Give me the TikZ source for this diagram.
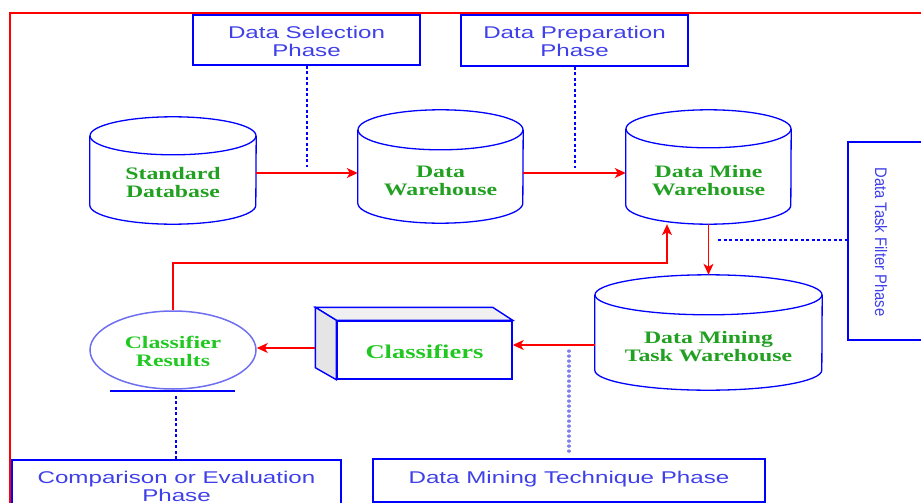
\documentclass[tikz,border=0pt]{standalone}
\usepackage{fontspec}
\usetikzlibrary{arrows.meta,shapes.geometric}
\newfontfamily\phasefont{Liberation Sans}[FakeStretch=1.42]
\newfontfamily\sidefont{Liberation Sans}
\newfontfamily\storefont{Liberation Serif}[FakeStretch=1.36]
\definecolor{phaseblue}{RGB}{64,64,232}
\definecolor{softblue}{RGB}{110,110,240}
\definecolor{dotblue}{RGB}{125,125,240}
\definecolor{storegreen}{RGB}{34,160,34}
\definecolor{brightgreen}{RGB}{34,200,34}
\definecolor{flowred}{RGB}{255,0,0}

\tikzset{
  phasebox/.style={draw=blue, line width=1.4pt, inner sep=0pt, fill=white},
  phasetext/.style={text=phaseblue, font=\phasefont\fontsize{17}{18}\selectfont, align=center},
  storetext/.style={text=storegreen, font=\storefont\bfseries\fontsize{17.5}{18}\selectfont, align=center},
  brighttext/.style={text=brightgreen, font=\storefont\bfseries\fontsize{17.5}{18}\selectfont, align=center},
  cylline/.style={draw=blue, line width=1.3pt},
  flow/.style={draw=flowred, line width=1.3pt, -{Stealth[length=11pt,width=10pt,inset=3pt]}},
  phaselink/.style={draw=blue, line width=2pt, dash pattern=on 3pt off 2.5pt},
  softdots/.style={draw=dotblue, line width=3.2pt, line cap=round, dash pattern=on 0.2pt off 4.8pt},
}

% cylinder: name, centre x, top y, bottom y, x radius, y radius
\newcommand\dbcylinder[6]{%
  \node[inner sep=0pt, minimum width={2*#5*1pt}, minimum height={(#4-#3)*1pt}]
    (#1) at (#2,{-(#3+#4)/2}) {};
  \draw[cylline, fill=white] ([yshift=-#6pt]#1.north west)
    -- ([yshift=#6pt]#1.south west)
    arc[start angle=180, end angle=360, x radius=#5, y radius=#6]
    -- ([yshift=-#6pt]#1.north east);
  \draw[cylline] ([yshift=-#6pt]#1.north) ellipse[x radius=#5, y radius=#6];
}

\begin{document}
\begin{tikzpicture}[x=1pt, y=1pt]
\useasboundingbox (0,0) rectangle (921,-503);

% outer frame
\draw[flowred, line width=1.5pt] (10,-13) rectangle (940,-520);

% phase boxes
\node[phasebox, minimum width=227pt, minimum height=50pt] (sel) at (306.5,-40) {};
\node[phasetext] at (306.5,-41) {Data Selection\\Phase};
\node[phasebox, minimum width=227pt, minimum height=51pt] (prep) at (574.5,-40.5) {};
\node[phasetext] at (574.5,-41) {Data Preparation\\Phase};
\node[phasebox, minimum width=82pt, minimum height=198pt] (filter) at (889,-241) {};
\node[rotate=-90, text=phaseblue] at (881,-242)
  {\scalebox{1}[1.13]{\sidefont\fontsize{14.8}{16}\selectfont Data Task Filter Phase}};
\node[phasebox, minimum width=329pt, minimum height=54pt] (eval) at (176.5,-487) {};
\node[phasetext] at (176.5,-486) {Comparison or Evaluation\\Phase};
\node[phasebox, minimum width=392pt, minimum height=43pt] (tech) at (569,-480.5) {};
\node[phasetext] at (569,-479) {Data Mining Technique Phase};

% data stores
\dbcylinder{sdb}{173}{117}{224}{83}{19}
\node[storetext] at (173,-183) {Standard\\Database};
\dbcylinder{dw}{440.5}{110}{223}{82.5}{20}
\node[storetext] at (440.5,-181) {Data\\Warehouse};
\dbcylinder{dmw}{708.5}{110}{224}{82.5}{19}
\node[storetext] at (708.5,-181) {Data Mine\\Warehouse};
\dbcylinder{dmtw}{708.5}{275}{390}{113.5}{20}
\node[storetext] at (708.5,-347) {Data Mining\\Task Warehouse};

% classifiers block with its 3-d faces
\node[draw=blue, line width=1.4pt, fill=white, minimum width=175pt, minimum height=58pt,
      inner sep=0pt] (cls) at (424.5,-350) {};
\draw[blue, line width=1.4pt, fill=gray!12] (cls.north west) -- ++(-21,13)
  -- ([xshift=-20pt,yshift=13pt]cls.north east) -- (cls.north east) -- cycle;
\draw[blue, line width=1.4pt, fill=gray!20] (cls.north west) -- ++(-21,13)
  -- ([xshift=-21pt,yshift=12pt]cls.south west) -- (cls.south west) -- cycle;
\node[brighttext, font=\storefont\bfseries\fontsize{19.5}{20}\selectfont] at (424.5,-352) {Classifiers};

% classifier results
\node[ellipse, draw=softblue, line width=1.5pt, minimum width=166pt, minimum height=78pt,
      inner sep=0pt] (cr) at (173,-350) {};
\node[brighttext] at (173,-351) {Classifier\\Results};
\draw[blue, line width=1.6pt] ([xshift=-63pt,yshift=-1pt]cr.south) -- ([xshift=62pt,yshift=-1pt]cr.south);

% flow of data
\coordinate (row1) at (0,-173);
\coordinate (row2) at (0,-345);
\coordinate (fb) at (667,-263);
\draw[flow] (sdb.east |- row1) -- (dw.west |- row1);
\draw[flow] (dw.east |- row1) -- (dmw.west |- row1);
\draw[flow] (dmw.south) -- (dmtw.north);
\draw[flow] (dmtw.west |- row2) -- (cls.east |- row2);
\draw[flow] ([xshift=-21pt,yshift=2pt]cls.west) -- ([yshift=2pt]cr.east);
\draw[flow] (cr.north) |- (fb) -- (fb |- dmw.south);

% phase links
\draw[phaselink] (sel.south) -- ([yshift=6pt]sel.south |- row1);
\draw[phaselink] (prep.south) -- ([yshift=5pt]prep.south |- row1);
\coordinate (fl) at (718,-240);
\draw[phaselink] (fl) -- (filter.west |- fl);
\coordinate (tq) at (569,-351);
\draw[softdots] (tq) -- ([yshift=3pt]tq |- tech.north);
\draw[phaselink] ([xshift=3pt,yshift=-6pt]cr.south) -- ([xshift=3pt]cr.south |- eval.north);
\end{tikzpicture}
\end{document}
